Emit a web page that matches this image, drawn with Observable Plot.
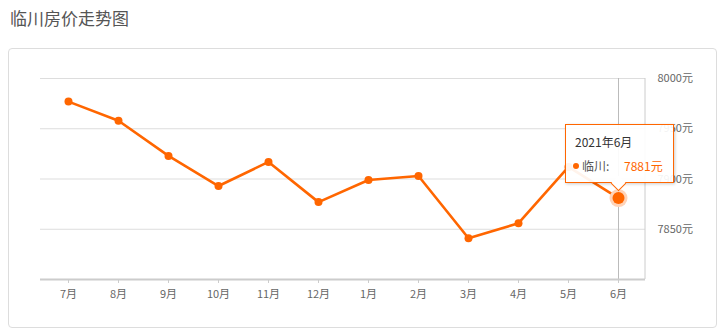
<!DOCTYPE html>
<html><head><meta charset="utf-8">
<script src="https://cdn.jsdelivr.net/npm/d3@7"></script>
<script src="https://cdn.jsdelivr.net/npm/@observablehq/plot@0.6"></script>
<style>
body{margin:0;width:727px;height:332px;position:relative;overflow:hidden;background:#fff;font-family:"Noto Sans CJK SC","Noto Sans",sans-serif;}
#title{position:absolute;left:10px;top:6px;font-size:17px;color:#555;line-height:24px;}
#panel{position:absolute;left:8px;top:48px;width:709px;height:280px;border:1px solid #ddd;border-radius:4px;box-sizing:border-box;}
#chart{position:absolute;left:0;top:0;}
#chart svg{font-family:"Noto Sans CJK SC","Noto Sans",sans-serif;overflow:visible;}
#tip{position:absolute;width:109px;height:59px;box-sizing:border-box;border:1px solid #ff6600;background:rgba(255,255,255,0.92);box-shadow:1px 1px 3px rgba(0,0,0,0.2);font-size:12px;}
#tip .t{position:absolute;left:9px;top:8px;color:#333;}
#tip .dot{position:absolute;left:7px;top:38px;width:6px;height:6px;border-radius:3px;background:#ff6600;}
#tip .n{position:absolute;left:16px;top:32px;color:#555;}
#tip .v{position:absolute;left:58px;top:32px;color:#ff6600;}
#tip .arr{position:absolute;left:47px;bottom:-7px;width:10px;height:10px;background:#fff;border-right:1px solid #ff6600;border-bottom:1px solid #ff6600;transform:rotate(45deg);}
</style></head><body>
<div id="title">临川房价走势图</div>
<div id="panel"></div>
<div id="chart"></div>
<script>
const months = ["7月","8月","9月","10月","11月","12月","1月","2月","3月","4月","5月","6月"];
const prices = [7977,7958,7923,7893,7917,7877,7899,7903,7841,7856,7912,7881];
const yTicks = [7850,7900,7950,8000];
const yBase = 7800;
const tipTitle = "2021年6月";
const seriesName = "临川";
const color = "#ff6600";

const data = months.map((m,i)=>({month:m, price:prices[i]}));
const last = data[data.length-1];

const chart = Plot.plot({
  width:727, height:332,
  marginLeft:40, marginRight:82, marginTop:78, marginBottom:53,
  x:{type:"point", domain:months, padding:0.5},
  y:{domain:[yBase, yTicks[yTicks.length-1]]},
  marks:[
    Plot.gridY(yTicks,{stroke:"#ddd", strokeOpacity:1}),
    Plot.ruleX([last.month],{stroke:"#bbb", strokeWidth:1}),
    Plot.ruleY([yBase],{stroke:"#ccc", strokeWidth:2}),
    Plot.axisY(yTicks,{anchor:"right", tickSize:0, tickPadding:12, tickFormat:d=>d+"元", fontSize:11, color:"#666", label:null}),
    Plot.axisX({tickSize:4, tickPadding:7, fontSize:11, color:"#666", stroke:"#ccc", label:null}),
    Plot.line(data,{x:"month", y:"price", stroke:color, strokeWidth:2.6}),
    Plot.dot(data,{x:"month", y:"price", r:4, fill:color}),
    Plot.dot([last],{x:"month", y:"price", r:9, fill:"#ffd3b8"}),
    Plot.dot([last],{x:"month", y:"price", r:6, fill:color})
  ]
});
document.getElementById("chart").appendChild(chart);

const sx = chart.scale("x"), sy = chart.scale("y");
// right border of plot area
const xr = sx.range[1];
d3.select(chart).append("line")
  .attr("x1",xr).attr("x2",xr)
  .attr("y1",sy.apply(yTicks[yTicks.length-1])).attr("y2",sy.apply(yBase))
  .attr("stroke","#ccc");

const px = sx.apply(last.month), py = sy.apply(last.price);
const tip = document.createElement("div");
tip.id = "tip";
tip.innerHTML = `<div class="arr"></div><div class="t">${tipTitle}</div><div class="dot"></div><div class="n">${seriesName}:</div><div class="v">${last.price}元</div>`;
tip.style.left = (px-53)+"px";
tip.style.top = (py-74)+"px";
document.body.appendChild(tip);
</script>
</body></html>
